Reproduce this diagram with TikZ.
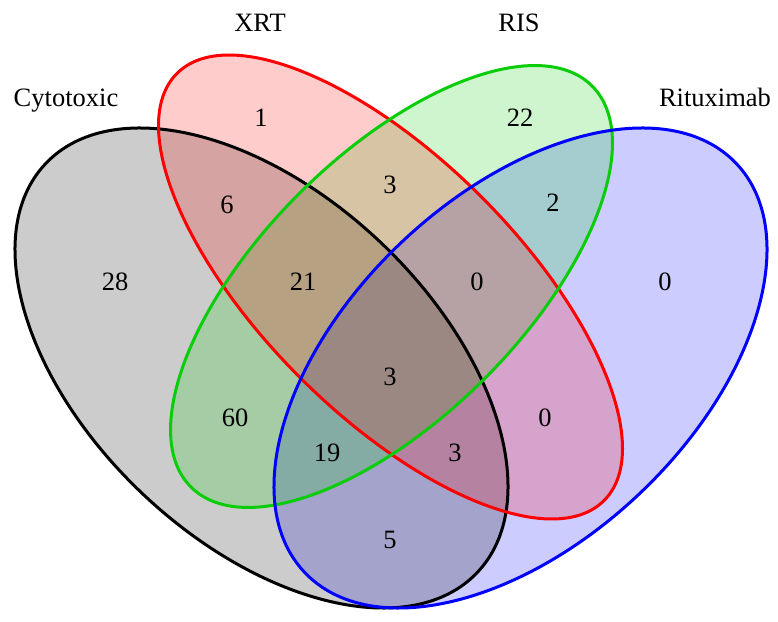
\documentclass[tikz,border=0pt]{standalone}
\usepackage{fontspec}
\setmainfont{Liberation Serif}
\definecolor{vgreen}{RGB}{10,205,10}
\definecolor{vred}{RGB}{255,0,0}
\definecolor{vblue}{RGB}{0,0,255}
\begin{document}
\begin{tikzpicture}[x=1pt,y=1pt,
  lbl/.style={font=\fontsize{26.5}{30}\selectfont, inner sep=0pt},
  setname/.style={font=\fontsize{26.5}{30}\selectfont, inner sep=0pt, anchor=base},
  vfill/.style={fill opacity=0.2},
  vline/.style={line width=3pt}]
\useasboundingbox (0,0) rectangle (778,621);
% fills
\fill[vblue, vfill, rotate around={43.45:(520.5,253)}] (520.5,253) ellipse [x radius=297.3pt, y radius=173.1pt];
\fill[black, vfill, rotate around={-43.45:(261.5,253)}] (261.5,253) ellipse [x radius=297.3pt, y radius=173.1pt];
\fill[vgreen, vfill, rotate around={45:(391.5,334.5)}] (391.5,334.5) ellipse [x radius=283.6pt, y radius=131pt];
\fill[vred, vfill, rotate around={-45:(390.5,334)}] (390.5,334) ellipse [x radius=302pt, y radius=128pt];
% outlines
\draw[black, vline, rotate around={-43.45:(261.5,253)}] (261.5,253) ellipse [x radius=297.3pt, y radius=173.1pt];
\draw[vred, vline, rotate around={-45:(390.5,334)}] (390.5,334) ellipse [x radius=302pt, y radius=128pt];
\draw[vgreen, vline, rotate around={45:(391.5,334.5)}] (391.5,334.5) ellipse [x radius=283.6pt, y radius=131pt];
\draw[vblue, vline, rotate around={43.45:(520.5,253)}] (520.5,253) ellipse [x radius=297.3pt, y radius=173.1pt];
% set names
\node[setname] (nC) at (66,514) {Cytotoxic};
\node[setname] (nX) at (260,589) {XRT};
\node[setname] (nR) at (519,589) {RIS};
\node[setname] (nM) at (715,514) {Rituximab};
% counts
\node[lbl] (c1) at (261,503) {1};
\node[lbl] (c6) at (227,416) {6};
\node[lbl] (c28) at (115,339) {28};
\node[lbl] (c21) at (303,339) {21};
\node[lbl] (c3a) at (390,436) {3};
\node[lbl] (c22) at (520,503) {22};
\node[lbl] (c2) at (553,418) {2};
\node[lbl] (c0a) at (477,339) {0};
\node[lbl] (c0b) at (665,339) {0};
\node[lbl] (c3b) at (390,244) {3};
\node[lbl] (c60) at (235,203) {60};
\node[lbl] (c19) at (327,168) {19};
\node[lbl] (c3c) at (455,168) {3};
\node[lbl] (c0c) at (545,203) {0};
\node[lbl] (c5) at (390,81) {5};
\end{tikzpicture}
\end{document}
